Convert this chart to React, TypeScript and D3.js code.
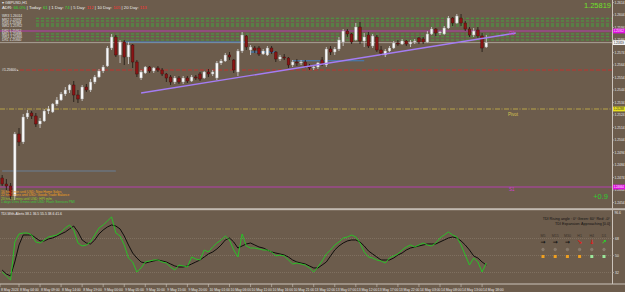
import * as React from 'react';
import * as d3 from 'd3';

const W = 625;
const H = 292;
const FONT = 'Liberation Sans, Arial, sans-serif';
const BG = '#6c5c4c';

// GBPUSD H1 — [open, high, low, close]
const CANDLES: [number, number, number, number][] = [
  [1.24736, 1.2476, 1.24672, 1.24688],
  [1.24688, 1.24728, 1.2464, 1.24672],
  [1.24672, 1.24696, 1.24568, 1.24592],
  [1.24592, 1.25104, 1.2456, 1.25088],
  [1.25088, 1.25136, 1.24992, 1.25024],
  [1.25024, 1.25248, 1.25008, 1.25224],
  [1.25224, 1.2528, 1.25208, 1.25256],
  [1.25256, 1.25272, 1.25208, 1.25232],
  [1.25232, 1.25256, 1.25144, 1.25168],
  [1.25168, 1.25216, 1.25136, 1.25192],
  [1.25192, 1.25288, 1.25184, 1.25272],
  [1.25272, 1.25312, 1.25248, 1.25288],
  [1.25264, 1.25336, 1.25256, 1.25328],
  [1.25328, 1.25384, 1.25312, 1.2536],
  [1.2536, 1.25424, 1.25352, 1.25408],
  [1.25408, 1.25464, 1.25392, 1.2544],
  [1.2544, 1.25488, 1.25416, 1.2548],
  [1.2548, 1.25512, 1.25344, 1.254],
  [1.254, 1.2544, 1.25336, 1.25368],
  [1.25368, 1.2548, 1.25352, 1.25464],
  [1.25464, 1.25488, 1.25424, 1.2544],
  [1.2544, 1.25528, 1.25424, 1.25504],
  [1.25504, 1.2556, 1.25488, 1.25544],
  [1.25544, 1.25608, 1.25536, 1.25592],
  [1.25592, 1.2564, 1.25576, 1.25624],
  [1.25632, 1.25792, 1.25624, 1.25776],
  [1.25776, 1.25888, 1.2576, 1.25864],
  [1.25864, 1.2588, 1.25704, 1.2572],
  [1.2572, 1.2584, 1.25656, 1.25824],
  [1.25824, 1.2584, 1.2564, 1.25704],
  [1.25704, 1.25824, 1.25648, 1.258],
  [1.258, 1.25808, 1.25616, 1.25664],
  [1.25664, 1.2568, 1.25544, 1.25568],
  [1.25536, 1.256, 1.2552, 1.25584],
  [1.25576, 1.25632, 1.25568, 1.25624],
  [1.25624, 1.25632, 1.25576, 1.25592],
  [1.25592, 1.25624, 1.25576, 1.25616],
  [1.25616, 1.25632, 1.25584, 1.256],
  [1.256, 1.25616, 1.25552, 1.25568],
  [1.25568, 1.25576, 1.25504, 1.25536],
  [1.25544, 1.2556, 1.2548, 1.25504],
  [1.25504, 1.25552, 1.25488, 1.25536],
  [1.25536, 1.25552, 1.25488, 1.25504],
  [1.25504, 1.25552, 1.25488, 1.25536],
  [1.25536, 1.25552, 1.25496, 1.25512],
  [1.25512, 1.2556, 1.25504, 1.25544],
  [1.25544, 1.2556, 1.2552, 1.25536],
  [1.25568, 1.25584, 1.25512, 1.25528],
  [1.25536, 1.25592, 1.25528, 1.25584],
  [1.25584, 1.25608, 1.25544, 1.25568],
  [1.25568, 1.256, 1.25552, 1.25584],
  [1.25536, 1.25672, 1.2552, 1.25656],
  [1.25656, 1.25688, 1.2564, 1.25672],
  [1.25672, 1.25736, 1.25664, 1.2572],
  [1.2572, 1.25744, 1.2568, 1.25704],
  [1.2568, 1.25688, 1.25576, 1.256],
  [1.25584, 1.25768, 1.25552, 1.25752],
  [1.25752, 1.25904, 1.25736, 1.2588],
  [1.25872, 1.2588, 1.2576, 1.25784],
  [1.2576, 1.258, 1.2572, 1.25784],
  [1.25776, 1.25792, 1.25736, 1.2576],
  [1.25776, 1.25792, 1.25712, 1.25728],
  [1.25728, 1.25768, 1.2572, 1.25752],
  [1.2572, 1.25792, 1.25712, 1.25776],
  [1.25776, 1.25792, 1.25728, 1.25744],
  [1.25744, 1.25752, 1.25664, 1.25688],
  [1.25688, 1.2572, 1.25672, 1.25704],
  [1.25704, 1.25728, 1.2568, 1.25696],
  [1.25696, 1.25704, 1.25616, 1.2564],
  [1.2564, 1.2568, 1.25624, 1.25664],
  [1.25664, 1.25688, 1.25632, 1.25656],
  [1.25656, 1.2568, 1.2564, 1.25664],
  [1.25664, 1.2568, 1.25616, 1.25632],
  [1.25632, 1.25648, 1.256, 1.25616],
  [1.25616, 1.2564, 1.256, 1.25624],
  [1.25624, 1.25664, 1.25608, 1.25656],
  [1.2568, 1.25704, 1.25632, 1.25648],
  [1.2564, 1.25784, 1.25624, 1.25768],
  [1.25768, 1.25792, 1.2572, 1.25744],
  [1.25744, 1.25784, 1.2572, 1.25768],
  [1.25768, 1.25864, 1.25752, 1.2584],
  [1.25824, 1.25928, 1.25792, 1.25912],
  [1.25912, 1.25928, 1.25864, 1.25888],
  [1.25888, 1.25896, 1.25808, 1.25824],
  [1.2584, 1.25976, 1.25832, 1.25944],
  [1.25944, 1.25984, 1.25808, 1.25832],
  [1.25832, 1.25896, 1.25784, 1.25864],
  [1.2588, 1.25904, 1.25776, 1.25792],
  [1.25792, 1.25888, 1.25776, 1.25872],
  [1.25864, 1.2588, 1.25744, 1.2576],
  [1.2576, 1.25792, 1.25712, 1.25736],
  [1.2572, 1.25768, 1.25704, 1.25752],
  [1.25752, 1.25792, 1.25744, 1.25776],
  [1.25776, 1.25832, 1.25768, 1.25816],
  [1.25816, 1.2584, 1.25792, 1.25808],
  [1.25808, 1.25848, 1.258, 1.25832],
  [1.25832, 1.2584, 1.25792, 1.25808],
  [1.25808, 1.2584, 1.25784, 1.25824],
  [1.25824, 1.25848, 1.25808, 1.25832],
  [1.25856, 1.25864, 1.25808, 1.25824],
  [1.25848, 1.25864, 1.25808, 1.25824],
  [1.25824, 1.25912, 1.25816, 1.25888],
  [1.25888, 1.25944, 1.2588, 1.25928],
  [1.25928, 1.25936, 1.25872, 1.25896],
  [1.25896, 1.25912, 1.2588, 1.25904],
  [1.25888, 1.25952, 1.2588, 1.25936],
  [1.25936, 1.26032, 1.25928, 1.26016],
  [1.26016, 1.26024, 1.25952, 1.25976],
  [1.25976, 1.26048, 1.25968, 1.26032],
  [1.26016, 1.26048, 1.25952, 1.25976],
  [1.25976, 1.25992, 1.25912, 1.25928],
  [1.25928, 1.25944, 1.25864, 1.2588],
  [1.2588, 1.25936, 1.25864, 1.25912],
  [1.2592, 1.25944, 1.25856, 1.25872],
  [1.25872, 1.25896, 1.25744, 1.25776],
  [1.25784, 1.2588, 1.25776, 1.25819],
];

const BID = 1.25819;
const PRICE_TICKS = [
  1.2454, 1.2464, 1.2474, 1.2484, 1.2494, 1.2504, 1.2514, 1.2524, 1.2534,
  1.2544, 1.2554, 1.2564, 1.2574, 1.2584, 1.2594, 1.2604, 1.2614,
];

// horizontal levels
const GREEN_LEVELS = [1.26014, 1.25992, 1.25968, 1.25952, 1.25888, 1.25866, 1.2584];
const LEVEL_NAMES = ['WR3 1.26014', 'MR2 1.25992', 'DR3 1.25968', 'WR2 1.25952', 'DR2 1.25912', 'MR1 1.25888', 'WR1 1.25866', 'DR1 1.25840'];
const LEVEL_NAME_PRICES = [1.26032, 1.26, 1.25976, 1.2595, 1.25912, 1.25888, 1.25864, 1.25842];
const R1 = 1.25912;
const S1 = 1.24664;
const PIVOT = 1.25288;
const ADR_LEVEL = 1.256;
const BLUE_SEGMENTS = [
  { from: 29, to: 58, price: 1.25824 },
  { from: 59, to: 65, price: 1.25744 },
  { from: 69, to: 86, price: 1.25674 },
  { from: 0, to: 27, price: 1.24792 },
];
const TREND = [
  { bar: 33, price: 1.25416 },
  { bar: 122, price: 1.25896 },
];

// TDI (RSI price line = green, signal = black)
const TDI_RSI = [
  32.5, 28.3, 24.0, 64.3, 72.8, 73.8, 73.8, 71.7, 64.3, 63.2,
  66.4, 69.6, 70.6, 71.7, 74.9, 79.1, 82.3, 77.0, 63.2, 60.1,
  61.1, 64.3, 71.7, 79.1, 82.3, 86.5, 90.8, 73.8, 70.6, 61.1,
  47.3, 43.1, 32.5, 36.8, 43.1, 44.2, 45.2, 45.2, 43.1, 42.0,
  37.8, 34.6, 39.9, 38.9, 37.8, 48.4, 46.3, 45.2, 55.8, 53.7,
  59.0, 63.2, 66.4, 70.6, 66.4, 55.8, 48.4, 72.8, 60.1, 57.9,
  57.9, 56.9, 55.8, 55.8, 53.7, 49.5, 50.5, 49.5, 45.2, 41.0,
  42.0, 41.0, 39.9, 36.8, 32.5, 37.8, 44.2, 51.6, 55.8, 61.1,
  64.3, 68.5, 69.6, 71.7, 69.6, 63.2, 53.7, 48.4, 47.3, 45.2,
  44.2, 42.0, 47.3, 49.5, 51.6, 55.8, 59.0, 61.1, 59.0, 61.1,
  63.2, 61.1, 60.1, 63.2, 68.5, 71.7, 74.9, 71.7, 69.6, 61.1,
  50.5, 39.9, 47.3, 43.1, 32.5, 42.0,
];
const TDI_SIGNAL = [
  34.6, 30.4, 28.3, 43.1, 61.1, 71.7, 71.7, 71.7, 68.5, 65.4,
  65.4, 67.5, 68.5, 70.6, 72.8, 74.9, 78.1, 81.2, 74.9, 66.4,
  63.2, 62.2, 66.4, 72.8, 77.0, 80.2, 82.3, 81.2, 78.1, 70.6,
  61.1, 52.6, 47.3, 43.1, 42.0, 43.1, 44.2, 45.2, 44.2, 43.1,
  41.0, 38.9, 37.8, 37.8, 38.9, 41.0, 43.1, 45.2, 48.4, 51.6,
  53.7, 56.9, 61.1, 66.4, 68.5, 64.3, 57.9, 60.1, 62.2, 63.2,
  61.1, 59.0, 57.9, 55.8, 53.7, 52.6, 51.6, 50.5, 48.4, 45.2,
  43.1, 42.0, 41.0, 38.9, 36.8, 36.8, 39.9, 43.1, 49.5, 55.8,
  60.1, 63.2, 65.4, 66.4, 66.4, 64.3, 60.1, 54.8, 51.6, 48.4,
  45.2, 45.2, 45.2, 47.3, 50.5, 52.6, 55.8, 57.9, 59.0, 60.1,
  61.1, 62.2, 62.2, 62.2, 64.3, 66.4, 68.5, 69.6, 68.5, 65.4,
  61.1, 55.8, 49.5, 47.3, 43.1, 39.9,
];
const TDI_LEVELS = [68, 50, 32];

const TIME_BARS = [0, 4, 9, 14, 19, 24, 29, 34, 39, 44, 49, 54, 59, 64, 69, 74, 79, 84, 89, 94, 99, 104, 109, 114];
const TIME_LABELS = [
  '8 May 2024', '8 May 04:00', '8 May 09:00', '8 May 14:00', '8 May 19:00', '9 May 00:00',
  '9 May 05:00', '9 May 10:00', '9 May 15:00', '9 May 20:00', '10 May 01:00', '10 May 06:00',
  '10 May 11:00', '10 May 16:00', '10 May 21:00', '13 May 02:00', '13 May 07:00', '13 May 12:00',
  '13 May 17:00', '13 May 22:00', '14 May 03:00', '14 May 08:00', '14 May 13:00', '14 May 18:00',
];

const NEWS = [
  { text: '16 hrs 1 min until USD: New Home Sales', color: '#f0a020' },
  { text: '22 hrs 1 mins until USD: Goods Trade Balance', color: '#f0a020' },
  { text: '23 hrs 13 mins until USD: HPI m/m', color: '#9ccc2c' },
  { text: '1 days 0 hrs 3 mins until USD: Flash Services PMI', color: '#3ccc3c' },
];

const TF = ['M5', 'M15', 'M30', 'H1', 'H4', 'D1'];
const TF_ARROW = ['→', '→', '→', '↘', '↓', '↗'];
const TF_ARROW_COLOR = ['#111', '#111', '#111', '#ee1111', '#ee1111', '#22dd22'];
const TF_SQUARE = ['#f0a020', '#f0a020', '#f0a020', '#f0a020', '#9be89b', '#9be89b'];

export default function App() {
  const n = CANDLES.length;
  const x = d3.scaleLinear().domain([0, n - 1]).range([2.16, 2.16 + (n - 1) * 4.21]);
  const y = d3.scaleLinear().domain([1.24496, 1.2616]).range([208, 0]);
  const yT = d3.scaleLinear().domain([19.8, 97.1]).range([284, 211]);
  const col = d3.scalePoint<string>().domain(TF).range([543, 604]);
  const bw = 2.6;
  const axisX = 612.5;

  const tdiLine = d3
    .line<number>()
    .x((_, i) => x(i))
    .y((v) => yT(v));

  // coloured price tag on the right axis
  const axisBox = (price: number, fill: string, textFill: string) => (
    <g>
      <rect x={axisX + 0.5} y={y(price) - 2.4} width={12} height={4.8} fill={fill} />
      <text x={axisX + 1.2} y={y(price) + 1.1} fontSize={2.8} fill={textFill} fontFamily={FONT}>
        {price.toFixed(5)}
      </text>
    </g>
  );

  return (
    <svg
      width={W}
      height={H}
      viewBox={`0 0 ${W} ${H}`}
      style={{ position: 'fixed', left: 0, top: 0, display: 'block' }}
    >
      <defs>
        <clipPath id="main">
          <rect x={0} y={0} width={axisX} height={208} />
        </clipPath>
        <clipPath id="tdi">
          <rect x={0} y={211} width={axisX} height={73} />
        </clipPath>
      </defs>
      <rect width={W} height={H} fill={BG} />

      <g clipPath="url(#main)">
        {/* levels */}
        {GREEN_LEVELS.map((p, i) => (
          <line key={i} x1={36} x2={axisX} y1={y(p)} y2={y(p)} stroke="#3db33d" strokeWidth={0.8} strokeDasharray="3,2" />
        ))}
        <line x1={0} x2={axisX} y1={y(R1)} y2={y(R1)} stroke="#c838c8" strokeWidth={0.8} />
        <line x1={0} x2={axisX} y1={y(S1)} y2={y(S1)} stroke="#c838c8" strokeWidth={0.8} />
        <line x1={0} x2={axisX} y1={y(BID)} y2={y(BID)} stroke="#b9b1a8" strokeWidth={0.8} />
        <line x1={20} x2={axisX} y1={y(ADR_LEVEL)} y2={y(ADR_LEVEL)} stroke="#d42a2a" strokeWidth={0.8} strokeDasharray="4,2" />
        <line x1={0} x2={axisX} y1={y(PIVOT)} y2={y(PIVOT)} stroke="#cdb848" strokeWidth={0.8} strokeDasharray="5,1.5,1,1.5" />
        {BLUE_SEGMENTS.map((s, i) => (
          <line key={i} x1={x(s.from)} x2={x(s.to)} y1={y(s.price)} y2={y(s.price)} stroke={i === 3 ? '#6a88a8' : '#3f7fc0'} strokeWidth={i === 3 ? 0.8 : 1.2} />
        ))}

        {/* candles */}
        {CANDLES.map(([o, h, l, c], i) => {
          const up = c >= o;
          const cx = x(i);
          const top = y(Math.max(o, c));
          const bot = y(Math.min(o, c));
          return (
            <g key={i}>
              <line x1={cx} x2={cx} y1={y(h)} y2={y(l)} stroke={up ? '#d6d6d6' : '#1e1612'} strokeWidth={0.8} />
              <rect
                x={cx - bw / 2}
                y={top}
                width={bw}
                height={Math.max(0.8, bot - top)}
                fill={up ? '#f8f8f8' : '#8a1414'}
                stroke={up ? '#9a9a9a' : '#3a0c0c'}
                strokeWidth={0.4}
              />
            </g>
          );
        })}

        {/* trend line */}
        <line
          x1={x(TREND[0].bar)}
          y1={y(TREND[0].price)}
          x2={x(TREND[1].bar)}
          y2={y(TREND[1].price)}
          stroke="#a47cf4"
          strokeWidth={1.4}
        />

        {/* texts */}
        <text x={2} y={4} fontSize={3.8} fill="#e8e8e8" fontFamily={FONT}>▾ GBPUSD,H1</text>
        <text x={2} y={9} fontSize={4.3} fontFamily={FONT} fill="#eeeeee">
          ADR: <tspan fill="#33dd33">66.0%</tspan> | Today: <tspan fill="#33dd33">61</tspan> | 1 Day:{' '}
          <tspan fill="#33dd33">74</tspan> | 5 Day: <tspan fill="#ff3030">112</tspan> | 10 Day:{' '}
          <tspan fill="#ff3030">105</tspan> | 20 Day: <tspan fill="#ff3030">113</tspan>
        </text>
        {LEVEL_NAMES.map((t, i) => (
          <text key={i} x={2} y={y(LEVEL_NAME_PRICES[i]) + 1.2} fontSize={3.3} fill="#e4e4e4" fontFamily={FONT}>
            {t}
          </text>
        ))}
        <text x={2} y={y(ADR_LEVEL) + 1.3} fontSize={3.4} fill="#f0f0f0" fontFamily={FONT}>#1.25600 ▸</text>
        <text x={509} y={y(R1) + 3.5} fontSize={4.5} fill="#d040d0" fontFamily={FONT}>R1</text>
        <text x={508} y={y(PIVOT) + 6.5} fontSize={4.5} fill="#d8c450" fontFamily={FONT}>Pivot</text>
        <text x={509} y={y(S1) + 4} fontSize={4.5} fill="#d040d0" fontFamily={FONT}>S1</text>
        <text x={611} y={8} fontSize={7.5} fill="#6ee02a" textAnchor="end" fontFamily={FONT}>1.25819</text>
        <text x={608} y={199} fontSize={7.5} fill="#2ecc2e" textAnchor="end" fontFamily={FONT}>+0.9</text>
        {NEWS.map((d, i) => (
          <text key={i} x={1} y={193 + i * 3.3} fontSize={3.3} fill={d.color} fontFamily={FONT}>
            {d.text}
          </text>
        ))}
      </g>

      {/* price axis */}
      <line x1={axisX} x2={axisX} y1={0} y2={284} stroke="#cbc3ba" strokeWidth={1} />
      {PRICE_TICKS.map((p) => (
        <g key={p}>
          <line x1={axisX} x2={axisX + 1.5} y1={y(p)} y2={y(p)} stroke="#cbc3ba" strokeWidth={0.6} />
          <text x={axisX + 2} y={y(p) + 1.2} fontSize={3.3} fill="#e6e6e6" fontFamily={FONT}>
            {p.toFixed(4)}
          </text>
        </g>
      ))}
      {axisBox(R1, '#e010e0', '#ffffff')}
      {axisBox(BID, '#f4f4f4', '#222222')}
      {axisBox(PIVOT, '#e8e020', '#222222')}
      {axisBox(S1, '#e010e0', '#ffffff')}

      {/* panel separator */}
      <rect x={0} y={208.2} width={W} height={2} fill="#c2bab1" />

      {/* TDI panel */}
      <text x={1} y={214.5} fontSize={3.4} fill="#f0f0f0" fontFamily={FONT}>
        TDI-With-Alerts 38.1 36.5 55.5 38.6 41.6
      </text>
      {TDI_LEVELS.map((v) => (
        <g key={v}>
          <line x1={0} x2={axisX} y1={yT(v)} y2={yT(v)} stroke="#8e7f6f" strokeWidth={0.6} strokeDasharray="1,1" />
          <line x1={axisX} x2={axisX + 1.5} y1={yT(v)} y2={yT(v)} stroke="#cbc3ba" strokeWidth={0.6} />
          <text x={axisX + 2.5} y={yT(v) + 1.2} fontSize={3.4} fill="#e6e6e6" fontFamily={FONT}>{v}</text>
        </g>
      ))}
      <text x={axisX + 2} y={214} fontSize={3.3} fill="#e6e6e6" fontFamily={FONT}>96.6</text>
      <g clipPath="url(#tdi)">
        <path d={tdiLine(TDI_SIGNAL) ?? ''} fill="none" stroke="#050505" strokeWidth={0.9} />
        <path d={tdiLine(TDI_RSI) ?? ''} fill="none" stroke="#22cc22" strokeWidth={0.9} />
      </g>

      {/* TDI dashboard */}
      <text x={610} y={220} fontSize={3.7} fill="#111" textAnchor="end" fontFamily={FONT}>
        TDI Rising angle : 0° Green: 60° Red: -0°
      </text>
      <text x={610} y={224.5} fontSize={3.7} fill="#111" textAnchor="end" fontFamily={FONT}>
        TDI Expansion: Approaching [0.0]
      </text>
      {TF.map((t, i) => (
        <g key={t}>
          <text x={col(t)} y={236.5} fontSize={3.6} fill="#3a3128" textAnchor="middle" fontFamily={FONT}>{t}</text>
          <text x={col(t)} y={244} fontSize={6} fontWeight="bold" fill={TF_ARROW_COLOR[i]} textAnchor="middle" fontFamily="DejaVu Sans">
            {TF_ARROW[i]}
          </text>
          <circle cx={col(t)} cy={249.5} r={1.3} fill="#86796b" stroke="#9a8e80" strokeWidth={0.4} />
          <rect x={(col(t) ?? 0) - 1.5} y={255} width={3} height={3} fill={TF_SQUARE[i]} />
        </g>
      ))}

      {/* time axis */}
      <line x1={0} x2={W} y1={284} y2={284} stroke="#cbc3ba" strokeWidth={1} />
      {TIME_BARS.map((b, i) => {
        const tx = i === 0 ? 0 : x(b);
        return (
          <g key={b}>
            <line x1={tx} x2={tx} y1={284} y2={287} stroke="#cbc3ba" strokeWidth={0.6} />
            <text x={tx + 1} y={290.5} fontSize={3.4} fill="#e8e8e8" fontFamily={FONT}>
              {TIME_LABELS[i]}
            </text>
          </g>
        );
      })}
    </svg>
  );
}
